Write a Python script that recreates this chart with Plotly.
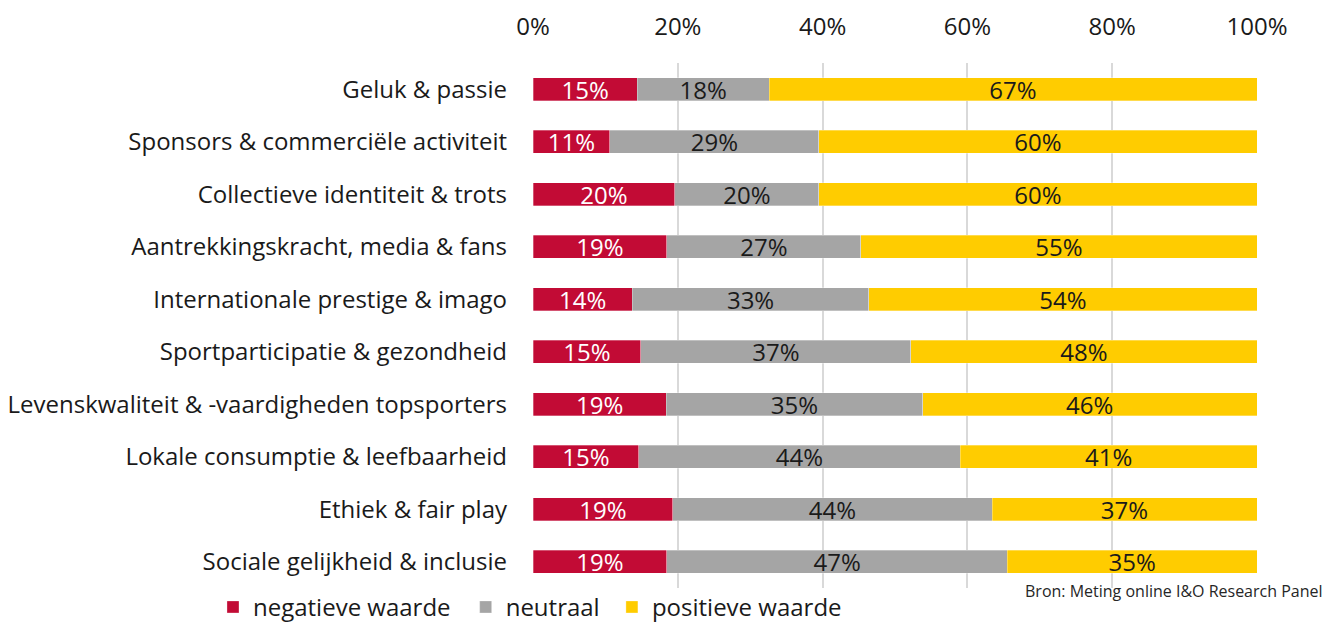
import plotly.graph_objects as go

categories = [
    "Geluk & passie",
    "Sponsors & commerciële activiteit",
    "Collectieve identiteit & trots",
    "Aantrekkingskracht, media & fans",
    "Internationale prestige & imago",
    "Sportparticipatie & gezondheid",
    "Levenskwaliteit & -vaardigheden topsporters",
    "Lokale consumptie & leefbaarheid",
    "Ethiek & fair play",
    "Sociale gelijkheid & inclusie",
]

negatief = [14.4, 10.6, 19.6, 18.5, 13.7, 14.9, 18.4, 14.6, 19.3, 18.5]
neutraal = [18.2, 28.9, 19.9, 26.8, 32.7, 37.3, 35.4, 44.4, 44.1, 47.0]
positief = [67.4, 60.5, 60.5, 54.7, 53.6, 47.8, 46.2, 41.0, 36.6, 34.5]

negatief_labels = ["15%", "11%", "20%", "19%", "14%", "15%", "19%", "15%", "19%", "19%"]
neutraal_labels = ["18%", "29%", "20%", "27%", "33%", "37%", "35%", "44%", "44%", "47%"]
positief_labels = ["67%", "60%", "60%", "55%", "54%", "48%", "46%", "41%", "37%", "35%"]

x_ticks = [0, 20, 40, 60, 80, 100]
x_tick_labels = ["0%", "20%", "40%", "60%", "80%", "100%"]

FONT = "Open Sans"
FS = 24
series = [
    ("negatieve waarde", negatief, negatief_labels, "#C20B35", "white", "legend", -0.442),
    ("neutraal", neutraal, neutraal_labels, "#A5A5A5", "#1a1a1a", "legend2", -0.093),
    ("positieve waarde", positief, positief_labels, "#FFCC00", "#1a1a1a", "legend3", 0.109),
]

fig = go.Figure()
legend_layouts = {}
for name, vals, labels, color, tcolor, leg, lx in series:
    fig.add_trace(go.Bar(
        y=categories, x=vals, name=name, orientation="h",
        marker=dict(color=color, line=dict(color="rgba(255,255,255,0.5)", width=0.6)),
        text=labels, textposition="inside", insidetextanchor="middle",
        textangle=0, constraintext="none",
        textfont=dict(family=FONT, size=FS, color=tcolor),
        hoverinfo="skip", legend=leg,
    ))
    legend_layouts[leg] = dict(
        orientation="h", x=lx, xanchor="left", y=0.006, yanchor="top",
        font=dict(family=FONT, size=FS, color="#1a1a1a"),
        itemwidth=30, bgcolor="rgba(0,0,0,0)",
    )

fig.update_layout(
    barmode="stack",
    bargap=0.5625,
    width=1334, height=616,
    margin=dict(l=525, r=85, t=55, b=36, autoexpand=False),
    paper_bgcolor="white", plot_bgcolor="white",
    font=dict(family=FONT, size=FS, color="#1a1a1a"),
    showlegend=True,
    uniformtext=dict(mode=False),
    **legend_layouts,
)
fig.update_xaxes(
    range=[0, 100], side="top", tickvals=x_ticks, ticktext=x_tick_labels,
    showgrid=True, gridcolor="#D9D9D9", gridwidth=1.5, zeroline=False,
    showline=False, ticks="", ticklabelstandoff=22, automargin=False,
    tickfont=dict(family=FONT, size=FS, color="#1a1a1a"),
    fixedrange=True,
)
fig.update_yaxes(
    autorange="reversed", showgrid=False, zeroline=False, showline=False,
    ticks="", ticklabelstandoff=25, automargin=False,
    tickfont=dict(family=FONT, size=FS, color="#1a1a1a"),
    fixedrange=True,
)
fig.add_annotation(
    text="Bron: Meting online I&O Research Panel",
    xref="paper", yref="paper", x=1.094, y=-0.006, xanchor="right", yanchor="middle",
    showarrow=False, font=dict(family=FONT, size=16, color="#262626"),
)

fig.write_html("out.html")
